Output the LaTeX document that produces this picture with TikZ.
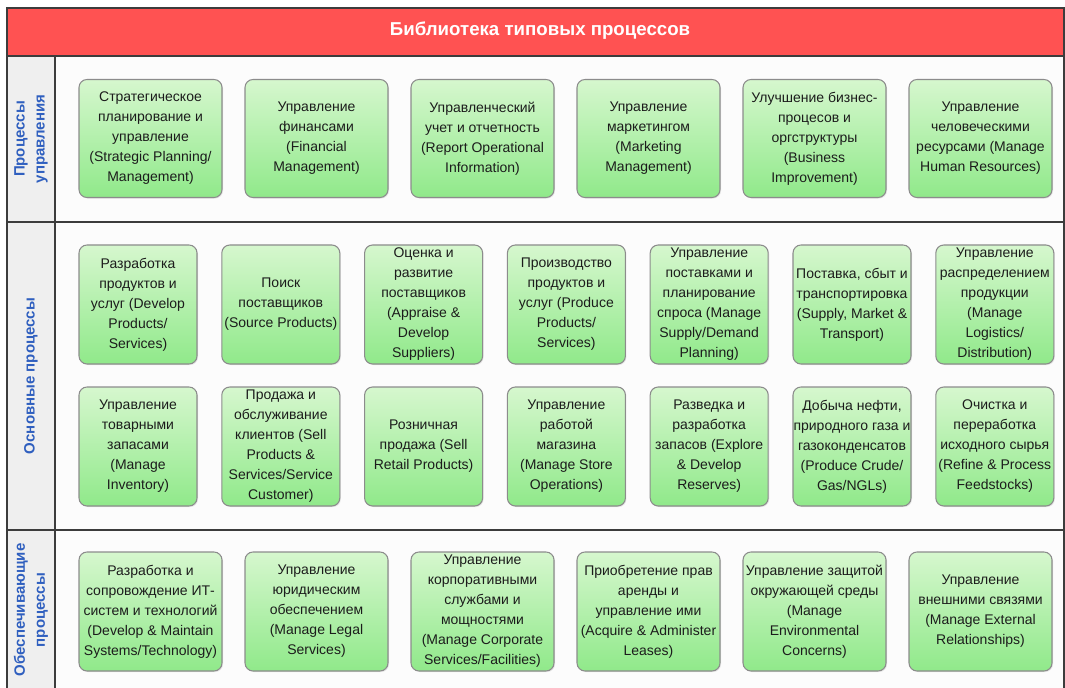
\documentclass[tikz,border=0pt]{standalone}
\usepackage{fontspec}
\setmainfont{Liberation Sans}
\usetikzlibrary{shadows}
\definecolor{frameline}{HTML}{3C3C3C}
\definecolor{headred}{HTML}{FF5252}
\definecolor{sidegray}{HTML}{EFEFEF}
\definecolor{paper}{HTML}{FCFCFC}
\definecolor{sideblue}{HTML}{2F5FBF}
\definecolor{boxtop}{HTML}{D6F7CE}
\definecolor{boxbottom}{HTML}{90E98A}
\definecolor{boxline}{HTML}{8C8C8C}
\definecolor{boxtext}{HTML}{1C1C1C}
\begin{document}
\begin{tikzpicture}[x=0.75pt,y=-0.75pt,
  proc/.style={rectangle, rounded corners=6pt, draw=boxline, line width=0.8pt,
    top color=boxtop, bottom color=boxbottom, inner sep=0pt, align=center,
    text=boxtext, font=\fontsize{10.5pt}{15pt}\selectfont,
    drop shadow={shadow xshift=0.8pt, shadow yshift=-0.8pt, opacity=0.18}},
  wide/.style={proc, minimum width=107.25pt, minimum height=88.5pt},
  narrow/.style={proc, minimum width=88.5pt, minimum height=89.25pt},
  sidelabel/.style={rotate=90, align=center, text=sideblue,
    font=\fontsize{11.25pt}{15pt}\selectfont\bfseries},
  frame/.style={draw=frameline, line width=1.4pt}]
\useasboundingbox (0,0) rectangle (1065,688);
\clip (0,0) rectangle (1065,688);
\fill[white] (0,0) rectangle (1065,688);

% lanes
\fill[paper] (7,56) rectangle (1064,700);
\fill[sidegray] (7,56) rectangle (55,700);
\fill[headred] (7,8) rectangle (1064,56);
\draw[frame] (7,8) rectangle (1064,700);
\draw[frame] (7,56) -- (1064,56);
\draw[frame] (7,222) -- (1064,222);
\draw[frame] (7,530) -- (1064,530);
\draw[frame] (55,56) -- (55,700);

\node[text=white, font=\fontsize{14pt}{17pt}\selectfont\bfseries] (title) at (540,31)
  {Библиотека типовых процессов};

\node[sidelabel] (lane1) at (31,139) {Процессы\\управления};
\node[sidelabel] (lane2) at (31,376) {Основные процессы};
\node[sidelabel] (lane3) at (31,610) {Обеспечивающие\\процессы};

% management processes
\node[wide] (m1) at (150.5,138.5) {Стратегическое\\планирование и\\управление\\(Strategic Planning/\\Management)};
\node[wide] (m2) at (316.5,138.5) {Управление\\финансами\\(Financial\\Management)};
\node[wide] (m3) at (482.5,138.5) {Управленческий\\учет и отчетность\\(Report Operational\\Information)};
\node[wide] (m4) at (648.5,138.5) {Управление\\маркетингом\\(Marketing\\Management)};
\node[wide] (m5) at (814.5,138.5) {Улучшение бизнес-\\процесов и\\оргструктуры\\(Business\\Improvement)};
\node[wide] (m6) at (980.5,138.5) {Управление\\человеческими\\ресурсами (Manage\\Human Resources)};

% core processes, upper row
\node[narrow] (c1) at (138,304.5) {Разработка\\продуктов и\\услуг (Develop\\Products/\\Services)};
\node[narrow] (c2) at (280.8,304.5) {Поиск\\поставщиков\\(Source Products)};
\node[narrow] (c3) at (423.6,304.5) {Оценка и\\развитие\\поставщиков\\(Appraise \&\\Develop\\Suppliers)};
\node[narrow] (c4) at (566.4,304.5) {Производство\\продуктов и\\услуг (Produce\\Products/\\Services)};
\node[narrow] (c5) at (709.2,304.5) {Управление\\поставками и\\планирование\\спроса (Manage\\Supply/Demand\\Planning)};
\node[narrow] (c6) at (852,304.5) {Поставка, сбыт и\\транспортировка\\(Supply, Market \&\\Transport)};
\node[narrow] (c7) at (994.8,304.5) {Управление\\распределением\\продукции\\(Manage\\Logistics/\\Distribution)};

% core processes, lower row
\node[narrow] (d1) at (138,446.5) {Управление\\товарными\\запасами\\(Manage\\Inventory)};
\node[narrow] (d2) at (280.8,446.5) {Продажа и\\обслуживание\\клиентов (Sell\\Products \&\\Services/Service\\Customer)};
\node[narrow] (d3) at (423.6,446.5) {Розничная\\продажа (Sell\\Retail Products)};
\node[narrow] (d4) at (566.4,446.5) {Управление\\работой\\магазина\\(Manage Store\\Operations)};
\node[narrow] (d5) at (709.2,446.5) {Разведка и\\разработка\\запасов (Explore\\\& Develop\\Reserves)};
\node[narrow] (d6) at (852,446.5) {Добыча нефти,\\природного газа и\\газоконденсатов\\(Produce Crude/\\Gas/NGLs)};
\node[narrow] (d7) at (994.8,446.5) {Очистка и\\переработка\\исходного сырья\\(Refine \& Process\\Feedstocks)};

% supporting processes
\node[wide, minimum height=89.25pt] (s1) at (150.5,611.5) {Разработка и\\сопровождение ИТ-\\систем и технологий\\(Develop \& Maintain\\Systems/Technology)};
\node[wide, minimum height=89.25pt] (s2) at (316.5,611.5) {Управление\\юридическим\\обеспечением\\(Manage Legal\\Services)};
\node[wide, minimum height=89.25pt] (s3) at (482.5,611.5) {Управление\\корпоративными\\службами и\\мощностями\\(Manage Corporate\\Services/Facilities)};
\node[wide, minimum height=89.25pt] (s4) at (648.5,611.5) {Приобретение прав\\аренды и\\управление ими\\(Acquire \& Administer\\Leases)};
\node[wide, minimum height=89.25pt] (s5) at (814.5,611.5) {Управление защитой\\окружающей среды\\(Manage\\Environmental\\Concerns)};
\node[wide, minimum height=89.25pt] (s6) at (980.5,611.5) {Управление\\внешними связями\\(Manage External\\Relationships)};
\end{tikzpicture}
\end{document}
